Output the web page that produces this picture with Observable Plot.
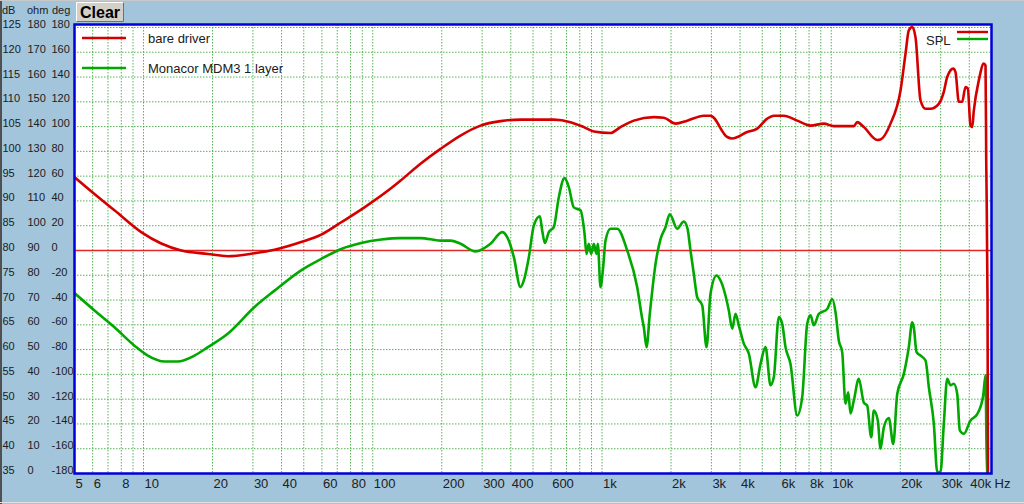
<!DOCTYPE html>
<html>
<head>
<meta charset="utf-8">
<script src="https://cdn.jsdelivr.net/npm/d3@7"></script>
<script src="https://cdn.jsdelivr.net/npm/@observablehq/plot@0.6"></script>
<style>
  html, body { margin: 0; padding: 0; background: #a2c5dc; }
  #chart { width: 1024px; height: 504px; overflow: hidden; }
</style>
</head>
<body>
<div id="chart"></div>
<script>
// ---- data ----
const redFreq = [5.0,6.11,7.47,9.77,11.95,14.6,19.1,23.3,30.5,37.3,48.7,59.6,72.9,92.0,124.4,132.2,161.6,197.5,241.4,295,361,441,616,729,833,921,1089,1204,1376,1683,1860,2093,2353,2781,2974,3517,3698,4299,4753,5255,5615,6209,7104,8120,9280,10260,12540,12980,13870,15870,16400,18130,20050,21080,21790,22550,23310,24510,25780,27100,29450,30970,32040,34040,34830,36010,37250,38510,39410,40490,41190,41860,44010,46280,47090,47420,48040,48280];
const redDb = [94.8,91.4,88.1,83.7,81.4,80.0,79.3,78.85,79.45,80.15,81.7,83.2,85.7,88.7,93.1,94.1,97.5,100.5,103.2,105.2,106.1,106.4,106.4,105.9,104.9,104.0,103.7,104.9,106.2,106.9,106.8,105.6,106.2,107.2,107.2,102.9,102.6,103.9,104.6,106.6,107.2,107.2,106.2,105.2,105.6,105.1,105.1,105.9,104.9,102.3,102.4,105.6,112.3,119.7,124.4,125.1,123.0,110.3,108.6,108.6,109.6,112.0,115.0,116.7,116.0,110.0,110.0,113.0,112.7,105.2,104.9,108.2,114.3,117.7,117.3,98.2,69.9,35.2];

const greenFreq = [5.0,6.11,7.47,9.13,10.44,12.35,14.11,16.69,19.1,23.3,
  30.5,37.3,48.7,59.6,72.9,89.0,108.9,132.2,161.6,197.5,
  218.4,241.4,280.7,326.3,367,392,412.5,441,456,479.5,
  504,535.5,548.6,563,586,616,648,686,716.5,753.4,
  805.8,838.9,855.8,875.7,897.1,921,946,958.7,985.1,1012,
  1036,1089,1165,1288,1424,1498,1522,1564,1616,1712,
  1800,1892,1975,2128,2274,2360,2432,2514,2601,2736,
  2857,2974,3160,3289,3574,3698,3822,3951,4155,4369,
  4673,4914,5166,5433,5615,5904,6110,6316,6641,7104,
  7469,7854,8120,8393,8827,9603,10100,10440,10790,11160,
  11540,11860,12130,12540,13190,13870,14350,14940,15330,15960,
  16400,16960,17830,18640,19400,20730,21790,22550,22910,23550,
  24510,25780,26650,28020,28990,29960,30970,32040,33140,34250,
  35440,36370,37870,40490,43310,46000,47090,47570,47900];
const greenDb = [71.4,67.9,64.5,60.8,58.8,57.6,57.6,58.8,60.5,63.2,
  68.6,71.9,76.0,78.3,80.3,81.5,82.2,82.5,82.5,82.0,
  82.0,81.35,79.8,81.35,83.7,82.0,78.65,72.6,73.95,78.65,
  85.0,86.9,84.0,81.5,83.7,84.7,90.75,94.6,92.8,88.7,
  88.1,83.4,79.3,81.35,79.3,81.35,79.3,81.35,72.6,76.7,
  82.0,84.4,84.4,80.0,72.6,66.2,64.5,60.5,67.2,77.3,
  82.3,84.7,87.3,84.4,85.85,84.4,80.0,75.3,70.6,68.9,
  60.5,71.3,74.95,73.95,67.9,64.2,67.2,64.9,61.2,59.2,
  52.4,57.1,60.5,52.8,54.4,66.55,65.2,60.5,57.1,46.7,
  50.4,65.2,66.9,64.9,67.2,68.2,70.2,67.5,61.8,59.5,
  49.1,51.4,47.1,49.7,54.1,49.3,48.7,42.3,47.7,45.7,
  40.0,44.3,46.2,40.95,51.05,55.1,60.5,65.5,64.5,59.5,
  58.8,57.8,52.4,45.0,35.3,35.3,45.0,54.1,52.8,53.1,
  51.05,43.7,43.0,45.7,47.0,50.7,54.8,40.1,35.3];

const phaseZeroDb = [80];

const dbTicks  = [125,120,115,110,105,100,95,90,85,80,75,70,65,60,55,50,45,40,35];
const ohmTicks = ["180","170","160","150","140","130","120","110","100","90","80","70","60","50","40","30","20","10","0"];
const degTicks = ["180","160","140","120","100","80","60","40","20","0","-20","-40","-60","-80","-100","-120","-140","-160","-180"];

const xTickValues = [5,6,8,10,20,30,40,60,80,100,200,300,400,600,1000,2000,3000,4000,6000,8000,10000,20000,30000,40000];
const xTickLabels = ["5","6","8","10","20","30","40","60","80","100","200","300","400","600","1k","2k","3k","4k","6k","8k","10k","20k","30k","40k"];
const gridFreqs = [5,6,7,8,9,10,20,30,40,50,60,70,80,90,100,200,300,400,500,600,700,800,900,1000,2000,3000,4000,5000,6000,7000,8000,9000,10000,20000,30000,40000];

const seriesNames = ["bare driver", "Monacor MDM3 1 layer"];
const seriesColors = ["#d40000", "#00a800"];

// ---- tables ----
const red = redFreq.map((f, i) => ({f, db: redDb[i]}));
const green = greenFreq.map((f, i) => ({f, db: greenDb[i]}));
const yLabels = dbTicks.map((d, i) => ({db: d, ohm: ohmTicks[i], deg: degTicks[i]}));
const xLabels = xTickValues.map((v, i) => ({v, label: xTickLabels[i]}));

const font = "'Liberation Sans', Arial, sans-serif";
const gridStyle = {stroke: "#38a838", strokeOpacity: 0.85, strokeDasharray: "1.5,1.5", strokeWidth: 1};

const chart = Plot.plot({
  width: 1024,
  height: 504,
  marginLeft: 74,
  marginRight: 33,
  marginTop: 24,
  marginBottom: 31,
  style: {background: "#a2c5dc", fontFamily: font, overflow: "visible"},
  x: {type: "log", domain: [5, 50000], axis: null},
  y: {domain: [35, 125.6], axis: null},
  marks: [
    Plot.frame({fill: "white", stroke: "none"}),
    Plot.ruleX(gridFreqs, gridStyle),
    Plot.ruleY(dbTicks.filter(d => d > 35), gridStyle),
    Plot.ruleY(phaseZeroDb, {stroke: "#e02828", strokeWidth: 1.3}),
    Plot.line(green, {x: "f", y: "db", stroke: seriesColors[1], strokeWidth: 2.6, curve: "monotone-x", clip: true}),
    Plot.line(red, {x: "f", y: "db", stroke: seriesColors[0], strokeWidth: 2.6, curve: "monotone-x", clip: true}),
    Plot.frame({stroke: "#0000d8", strokeWidth: 2.5}),
    // y labels: three columns
    Plot.text(yLabels, {y: "db", text: d => String(d.db), frameAnchor: "left", dx: -72, dy: -3, textAnchor: "start", fontSize: 11, fill: "#202020"}),
    Plot.text(yLabels, {y: "db", text: "ohm", frameAnchor: "left", dx: -47, dy: -3, textAnchor: "start", fontSize: 11, fill: "#202020"}),
    Plot.text(yLabels, {y: "db", text: "deg", frameAnchor: "left", dx: -23, dy: -3, textAnchor: "start", fontSize: 11, fill: "#202020"}),
    // x labels
    Plot.text(xLabels, {x: "v", text: "label", frameAnchor: "bottom", dx: 1, dy: 14, textAnchor: "start", fontSize: 13, fill: "#202020"}),
    Plot.text(["Hz"], {frameAnchor: "bottom-right", dx: 3, dy: 14, textAnchor: "start", fontSize: 13, fill: "#202020"})
  ]
});

document.getElementById("chart").appendChild(chart);

// ---- window chrome & legends ----
const svg = d3.select(chart);
const addText = (t, x, y, size, weight) => svg.append("text")
  .attr("x", x).attr("y", y).attr("font-size", size).attr("font-weight", weight || "normal")
  .attr("font-family", font).attr("text-anchor", "start").attr("fill", "#202020").text(t);

// header over the value columns
[["dB", 2], ["ohm", 27], ["deg", 52]].forEach(([t, x]) => addText(t, x, 14, 11));
// Clear button
const btn = svg.append("g");
btn.append("rect").attr("x", 76).attr("y", 2).attr("width", 48).attr("height", 20).attr("fill", "#d4d0c8");
btn.append("path").attr("d", "M76.5,21.5 V2.5 H123.5").attr("stroke", "#ffffff").attr("fill", "none");
btn.append("path").attr("d", "M76.5,21.5 H123.5 V2.5").attr("stroke", "#707070").attr("fill", "none");
addText("Clear", 80, 18, 16, "bold").attr("fill", "#000");
// outer window edges
svg.append("line").attr("x1", 1).attr("x2", 1).attr("y1", 0).attr("y2", 504).attr("stroke", "#505050").attr("stroke-width", 2);
svg.append("line").attr("x1", 0).attr("x2", 1024).attr("y1", 0.5).attr("y2", 0.5).attr("stroke", "#c8c8c8");
svg.append("line").attr("x1", 0).attr("x2", 1024).attr("y1", 502.5).attr("y2", 502.5).attr("stroke", "#e0e0e0");

// series legend (top-left inside the plot)
seriesNames.forEach((name, i) => {
  const y = 38 + i * 30;
  svg.append("line").attr("x1", 82).attr("x2", 126).attr("y1", y).attr("y2", y)
    .attr("stroke", seriesColors[i]).attr("stroke-width", 2.6);
  addText(name, 148, y + 4.5, 13);
});
// SPL legend (top-right)
addText("SPL", 926, 45, 13);
seriesColors.forEach((c, i) => {
  const y = 32 + i * 7;
  svg.append("line").attr("x1", 957).attr("x2", 988).attr("y1", y).attr("y2", y)
    .attr("stroke", c).attr("stroke-width", 2.4);
});
</script>
</body>
</html>
